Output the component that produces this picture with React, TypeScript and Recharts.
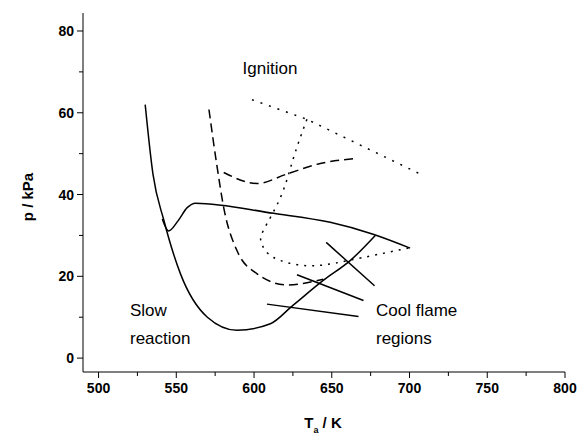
import React from 'react';
import { ComposedChart, Line, XAxis, YAxis } from 'recharts';

// Slow-reaction boundary (U shape)
const slowBoundary = [
    { t: 530, p: 62 }, { t: 535, p: 45 }, { t: 542, p: 33.7 }, { t: 552.7, p: 20.6 },
    { t: 570, p: 10 }, { t: 589, p: 6.8 }, { t: 610.5, p: 8.4 }, { t: 625, p: 12.9 },
    { t: 644.5, p: 19 }, { t: 662, p: 23.9 }, { t: 678, p: 30 },
];
// Upper solid boundary with the dip
const upperSolid = [
    { t: 541, p: 34 }, { t: 545, p: 31.1 }, { t: 551, p: 33.5 }, { t: 557, p: 36.8 }, { t: 562.4, p: 37.9 },
    { t: 612.6, p: 35.4 }, { t: 649, p: 33.2 }, { t: 676.6, p: 30.3 }, { t: 700.4, p: 26.9 },
];
const dashedOuter = [
    { t: 571, p: 60.8 }, { t: 576, p: 47.4 }, { t: 580.5, p: 36.8 }, { t: 589, p: 26.3 },
    { t: 602, p: 20.6 }, { t: 621, p: 17.9 }, { t: 644.6, p: 19.3 },
];
const dashedInner = [
    { t: 580.5, p: 45.4 }, { t: 602, p: 42.7 }, { t: 621, p: 45 }, { t: 642.6, p: 47.6 }, { t: 665, p: 48.8 },
];
const dottedUpper = [
    { t: 598.7, p: 63.2 }, { t: 634, p: 58.4 }, { t: 707, p: 45 },
];
const dottedLoop = [
    { t: 634, p: 58.4 }, { t: 625.4, p: 49 }, { t: 617, p: 39.3 }, { t: 606, p: 31.2 },
    { t: 605, p: 27.9 }, { t: 612.6, p: 24.6 }, { t: 634, p: 22.6 }, { t: 659.8, p: 23.8 }, { t: 700.4, p: 27 },
];
const pointer1 = [{ t: 646.4, p: 28.3 }, { t: 677.5, p: 17.7 }];
const pointer2 = [{ t: 627.6, p: 20.4 }, { t: 670.4, p: 14.1 }];
const pointer3 = [{ t: 608.3, p: 13.2 }, { t: 667.2, p: 10.2 }];

const xMajor = [500, 550, 600, 650, 700, 750, 800];
const xTicks = [500, 525, 550, 575, 600, 625, 650, 675, 700, 725, 750, 775, 800];
const yMajor = [0, 20, 40, 60, 80];
const yTicks = [0, 10, 20, 30, 40, 50, 60, 70, 80];

const font = 'Arial, "Liberation Sans", sans-serif';

const XTick = (props: any) => {
    const { x, y, payload } = props;
    const major = xMajor.includes(payload.value);
    return (
        <g>
            <line x1={x} x2={x} y1={y} y2={y + (major ? 6 : 4)} stroke="#000" />
            {major && (
                <text x={x} y={y + 21} textAnchor="middle" fontSize={14} fontWeight={700} fontFamily={font} fill="#000">
                    {payload.value}
                </text>
            )}
        </g>
    );
};

const YTick = (props: any) => {
    const { x, y, payload } = props;
    const major = yMajor.includes(payload.value);
    return (
        <g>
            <line x1={x - (major ? 6 : 4)} x2={x} y1={y} y2={y} stroke="#000" />
            {major && (
                <text x={x - 9} y={y + 5} textAnchor="end" fontSize={14} fontWeight={700} fontFamily={font} fill="#000">
                    {payload.value}
                </text>
            )}
        </g>
    );
};

const App: React.FC = () => {
    const line = (id: string, data: { t: number; p: number }[], dash?: string, type: any = 'monotone') => (
        <Line
            key={id}
            data={data}
            dataKey="p"
            type={type}
            stroke="#000"
            strokeWidth={1.5}
            strokeDasharray={dash}
            dot={false}
            activeDot={false}
            isAnimationActive={false}
        />
    );

    return (
        <div style={{ position: 'absolute', left: 0, top: 0, background: '#fff' }}>
            <ComposedChart width={581} height={437} margin={{ top: 13, right: 16, bottom: 35, left: 43 }}>
                <XAxis type="number" dataKey="t" domain={[490, 800]} ticks={xTicks} height={30} interval={0}
                    tickSize={0} tickMargin={0} tick={<XTick />} axisLine={{ stroke: '#000' }} tickLine={false} allowDataOverflow />
                <YAxis type="number" domain={[-3.4, 84.4]} ticks={yTicks} width={40} interval={0}
                    tickSize={0} tickMargin={0} tick={<YTick />} axisLine={{ stroke: '#000' }} tickLine={false} allowDataOverflow />
                {line('slow', slowBoundary)}
                {line('upper', upperSolid)}
                {line('dashA', dashedOuter, '9 5')}
                {line('dashB', dashedInner, '9 5')}
                {line('dotA', dottedUpper, '2 7', 'linear')}
                {line('dotB', dottedLoop, '2 6', 'natural')}
                {line('p1', pointer1, undefined, 'linear')}
                {line('p2', pointer2, undefined, 'linear')}
                {line('p3', pointer3, undefined, 'linear')}
                <text x={27} y={197} transform="rotate(-90 27 197)" textAnchor="middle" dominantBaseline="central"
                    style={{ fontSize: 15, fontWeight: 700, fontFamily: font }}>p / kPa</text>
                <text x={323} y={428} textAnchor="middle" style={{ fontSize: 15, fontWeight: 700, fontFamily: font }}>
                    T<tspan dy={5} fontSize={9}>a</tspan><tspan dy={-5}> / K</tspan>
                </text>
                <text x={270} y={74} textAnchor="middle" style={{ fontSize: 17, fontFamily: font }}>Ignition</text>
                <text x={130} y={316} style={{ fontSize: 17, fontFamily: font }}>Slow</text>
                <text x={130} y={344} style={{ fontSize: 17, fontFamily: font }}>reaction</text>
                <text x={376} y={316} style={{ fontSize: 17, fontFamily: font }}>Cool flame</text>
                <text x={376} y={344} style={{ fontSize: 17, fontFamily: font }}>regions</text>
            </ComposedChart>
        </div>
    );
};

export default App;
